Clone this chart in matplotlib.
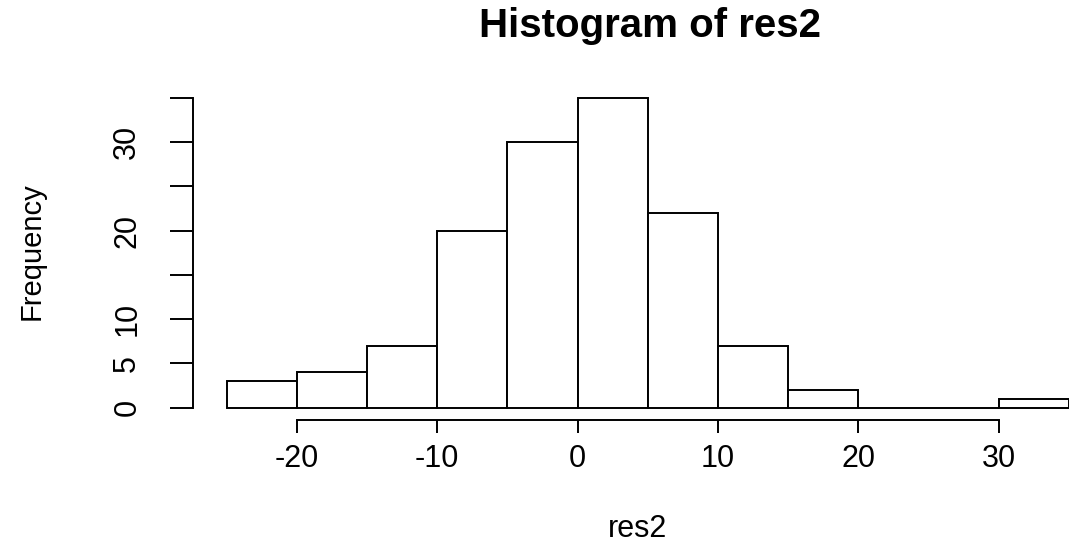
import matplotlib.pyplot as plt

# histogram of residuals: bin edges and counts per bin
bin_edges = [-25, -20, -15, -10, -5, 0, 5, 10, 15, 20, 25, 30, 35]
counts = [3, 4, 7, 20, 30, 35, 22, 7, 2, 0, 0, 1]

x_ticks = [-20, -10, 0, 10, 20, 30]
y_ticks = [0, 5, 10, 15, 20, 25, 30, 35]
y_tick_labels = ['0', '5', '10', '', '20', '', '30', '']

plt.rcParams['font.family'] = ['Liberation Sans', 'DejaVu Sans']
lw = 1.4

fig = plt.figure(figsize=(10.69, 5.45), dpi=100)
ax = fig.add_axes([0.1805, 0.2294, 0.851, 0.6134])

widths = [b - a for a, b in zip(bin_edges[:-1], bin_edges[1:])]
ax.bar(bin_edges[:-1], counts, width=widths, align='edge',
       color='white', edgecolor='black', linewidth=lw)

ax.set_xlim(-27.4, 37.4)
ax.set_ylim(-1.4, 36.4)

for side in ['top', 'right']:
    ax.spines[side].set_visible(False)
ax.spines['left'].set_bounds(0, 35)
ax.spines['bottom'].set_bounds(-20, 30)
ax.spines['left'].set_linewidth(lw)
ax.spines['bottom'].set_linewidth(lw)

ax.set_xticks(x_ticks)
ax.set_xticklabels([str(v) for v in x_ticks])
ax.set_yticks(y_ticks)
ax.set_yticklabels(y_tick_labels, rotation=90, va='center')
ax.tick_params(axis='x', length=9.5, width=lw, labelsize=22, pad=8)
ax.tick_params(axis='y', length=16.5, width=lw, labelsize=22, pad=20)

fig.text(650 / 1069, 1 - 37 / 545, 'Histogram of res2', ha='center',
         va='baseline', fontsize=29, fontweight='bold')
fig.text(638 / 1069, 1 - 537 / 545, 'res2', ha='center', va='baseline',
         fontsize=22)
fig.text(40 / 1069, 1 - 251 / 545, 'Frequency', ha='center', va='baseline',
         rotation=90, rotation_mode='anchor', fontsize=21)

fig.savefig('out.png', dpi=100)
